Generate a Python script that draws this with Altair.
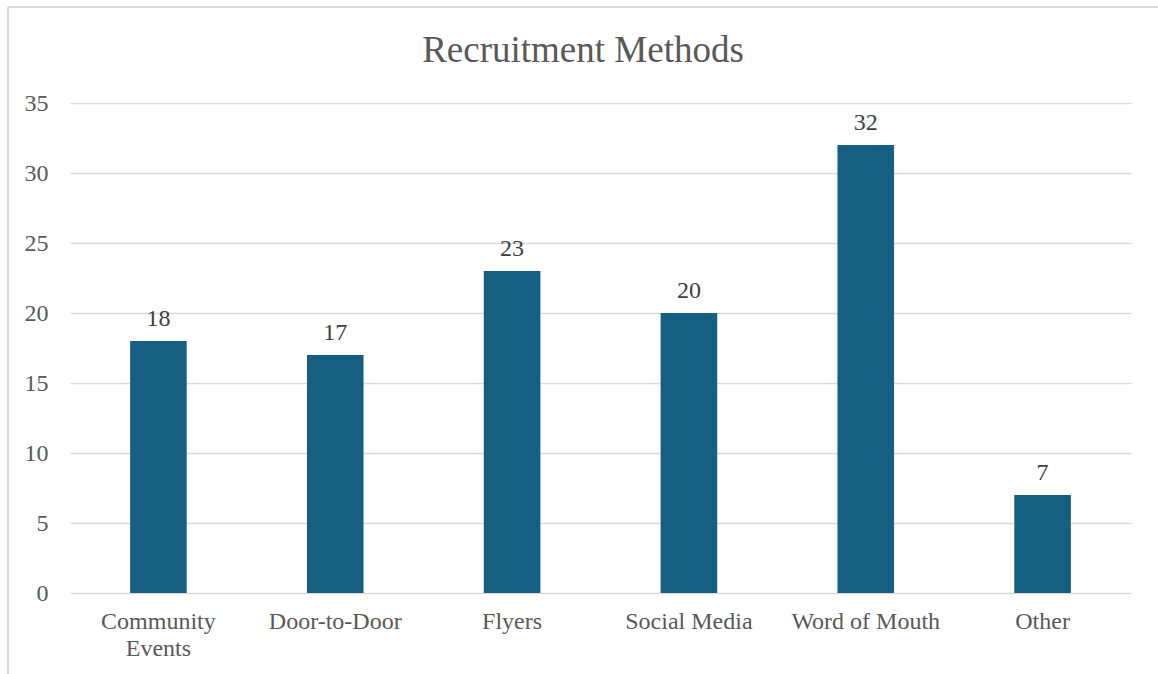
import altair as alt
import pandas as pd

categories = ["Community Events", "Door-to-Door", "Flyers", "Social Media", "Word of Mouth", "Other"]
values = [18, 17, 23, 20, 32, 7]
title_text = "Recruitment Methods"

df = pd.DataFrame({"method": categories, "count": values})

FONT = "Liberation Serif"
GRID = "#d9d9d9"
TXT = "#595959"

x_enc = alt.X(
    "method:N", sort=categories, title=None,
    scale=alt.Scale(paddingInner=0.68, paddingOuter=0.34),
    axis=alt.Axis(
        labelAngle=0, labelFont=FONT, labelFontSize=24, labelColor=TXT,
        labelPadding=16, labelLineHeight=27, ticks=False, domain=False,
        labelExpr="datum.label == 'Community Events' ? ['Community', 'Events'] : datum.label",
    ),
)
y_enc = alt.Y(
    "count:Q", title=None,
    scale=alt.Scale(domain=[0, 35], nice=False),
    axis=alt.Axis(
        values=[0, 5, 10, 15, 20, 25, 30, 35], labelFont=FONT, labelFontSize=24,
        labelColor=TXT, labelPadding=22, ticks=False, domain=False,
        grid=True, gridColor=GRID, gridWidth=1.5,
    ),
)

bars = alt.Chart(df).mark_bar(color="#156082").encode(x=x_enc, y=y_enc)
labels = alt.Chart(df).mark_text(
    font=FONT, fontSize=24, color="#404040", baseline="alphabetic", dy=-15
).encode(x=alt.X("method:N", sort=categories), y="count:Q", text="count:Q")

single = pd.DataFrame({"t": [title_text]})
title_mark = alt.Chart(single).mark_text(
    font=FONT, fontSize=37, color=TXT, baseline="alphabetic", align="center"
).encode(x=alt.value(513), y=alt.value(-41), text="t:N")

left_border = alt.Chart(single).mark_rule(color=GRID, strokeWidth=2).encode(
    x=alt.value(-62), y=alt.value(-96), y2=alt.value(575)
)
top_border = alt.Chart(single).mark_rule(color=GRID, strokeWidth=2).encode(
    x=alt.value(-62), x2=alt.value(1092), y=alt.value(-96)
)

chart = alt.layer(bars, labels, title_mark, left_border, top_border).properties(
    width=1061, height=490,
    autosize=alt.AutoSizeParams(type="none"),
    padding={"left": 70, "top": 103, "right": 27, "bottom": 81},
    background="white",
).configure_view(stroke="transparent", strokeWidth=0)

chart.save("out.html", embed_options={"renderer": "svg", "actions": False})
